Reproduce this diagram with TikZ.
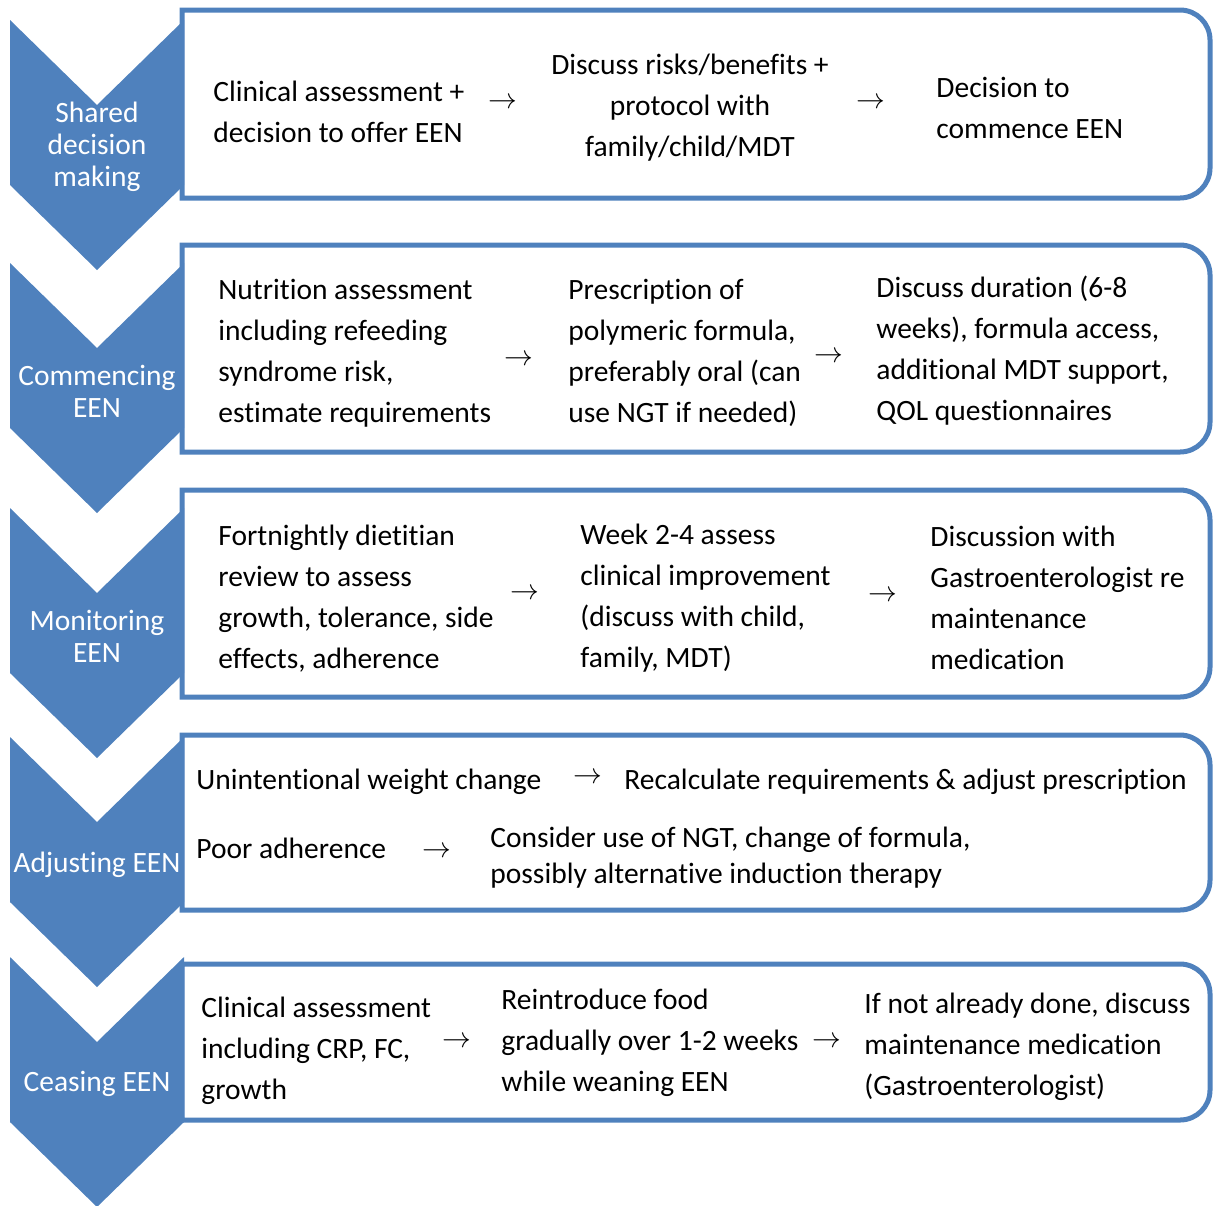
\documentclass[tikz,border=0pt]{standalone}
\usepackage{fontspec}
\setmainfont[RawFeature=-liga]{Carlito}
\usepackage{tikz}
\usetikzlibrary{positioning}
\definecolor{stepblue}{HTML}{4F81BD}

\begin{document}
\begin{tikzpicture}[x=0.5pt, y=-0.5pt]
  \useasboundingbox (0,0) rectangle (1213,1205);

  % ---- Styles ------------------------------------------------
  \tikzstyle{stagebox}=[draw=stepblue, line width=2.5pt, fill=white]
  \tikzstyle{chevron}=[fill=stepblue]
  \tikzstyle{stagelabel}=[text=white, align=center, inner sep=0pt,
                          font=\fontsize{14.75}{16}\selectfont]
  \tikzstyle{item}=[anchor=west, align=left, inner sep=0pt,
                    font=\fontsize{14.75}{20.5}\selectfont]
  \tikzstyle{next}=[inner sep=0pt, font=\fontsize{14.75}{16}\selectfont]

  % ---- Boxes (square left, rounded right) -------------------
  \foreach \top/\bot in {10/198, 245/452, 490/697, 735/910, 964/1120}
    \draw[stagebox] (182,\bot) -- (182,\top) -- (700,\top)
      [rounded corners=15pt] -- (1210,\top) -- (1210,\bot) -- (700,\bot)
      [sharp corners] -- cycle;

  % ---- Chevrons ---------------------------------------------
  \foreach \top in {20, 263, 508, 737, 957}
    \fill[chevron] (10,\top) -- (97,\top+85) -- (184,\top)
      -- (184,\top+165) -- (97,\top+250) -- (10,\top+165) -- cycle;

  % ---- Stage labels -----------------------------------------
  \node[stagelabel] (shared)     at (97, 147)  {Shared\\decision\\making};
  \node[stagelabel] (commencing) at (97, 391)  {Commencing\\EEN};
  \node[stagelabel] (monitoring) at (97, 636)  {Monitoring\\EEN};
  \node[stagelabel] (adjusting)  at (97, 865)  {Adjusting EEN};
  \node[stagelabel] (ceasing)    at (97, 1084) {Ceasing EEN};

  % ---- Row 1: shared decision making ------------------------
  \node[item] (clinical) at (213, 111.5) {Clinical assessment +\\decision to offer EEN};
  \node[next] (arrA1) at (503, 103) {$\rightarrow$};
  \node[item, anchor=center, align=center] (risks) at (690, 108)
    {Discuss risks/benefits +\\protocol with\\family/child/MDT};
  \node[next] (arrA2) at (871, 103) {$\rightarrow$};
  \node[item] (decision) at (936, 107.5) {Decision to\\commence EEN};

  % ---- Row 2: commencing ------------------------------------
  \node[item] (nutrition) at (218, 353)
    {Nutrition assessment\\including refeeding\\syndrome risk,\\estimate requirements};
  \node[next] (arrB1) at (519, 360) {$\rightarrow$};
  \node[item] (prescription) at (568, 353)
    {Prescription of\\polymeric formula,\\preferably oral (can\\use NGT if needed)};
  \node[next] (arrB2) at (829, 357) {$\rightarrow$};
  \node[item] (duration) at (876, 351)
    {Discuss duration (6-8\\weeks), formula access,\\additional MDT support,\\QOL questionnaires};

  % ---- Row 3: monitoring ------------------------------------
  \node[item] (fortnightly) at (218, 599)
    {Fortnightly dietitian\\review to assess\\growth, tolerance, side\\effects, adherence};
  \node[next] (arrC1) at (525, 594) {$\rightarrow$};
  \node[item] (week) at (580, 598)
    {Week 2-4 assess\\clinical improvement\\(discuss with child,\\family, MDT)};
  \node[next] (arrC2) at (883, 596) {$\rightarrow$};
  \node[item] (discussion) at (930, 597.5)
    {Discussion with\\Gastroenterologist re\\maintenance\\medication};

  % ---- Row 4: adjusting -------------------------------------
  \node[item] (weight) at (196, 782) {Unintentional weight change};
  \node[next] (arrD1) at (588, 778) {$\rightarrow$};
  \node[item] (recalc) at (624, 782) {Recalculate requirements \& adjust prescription};
  \node[item] (poor) at (196, 848) {Poor adherence};
  \node[next] (arrD2) at (437, 852) {$\rightarrow$};
  \node[item, font=\fontsize{14.75}{18}\selectfont] (consider) at (490, 858)
    {Consider use of NGT, change of formula,\\possibly alternative induction therapy};

  % ---- Row 5: ceasing ---------------------------------------
  \node[item] (assess) at (201, 1051)
    {Clinical assessment\\including CRP, FC,\\growth};
  \node[next] (arrE1) at (457, 1042) {$\rightarrow$};
  \node[item] (reintro) at (501, 1043)
    {Reintroduce food\\gradually over 1-2 weeks\\while weaning EEN};
  \node[next] (arrE2) at (827, 1042) {$\rightarrow$};
  \node[item] (ifnot) at (864, 1047)
    {If not already done, discuss\\maintenance medication\\(Gastroenterologist)};

\end{tikzpicture}
\end{document}
